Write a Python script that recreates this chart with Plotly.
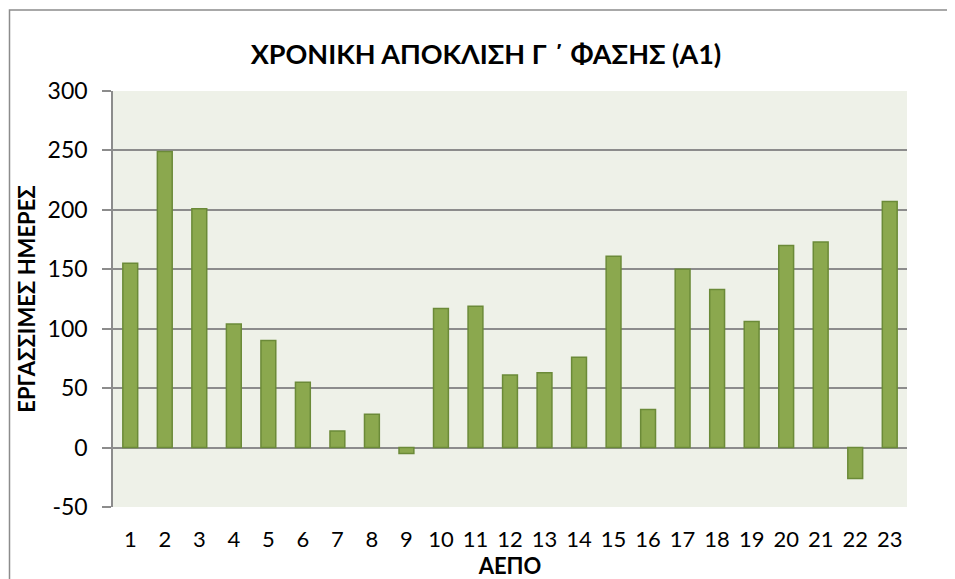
import plotly.graph_objects as go

categories = [str(i) for i in range(1, 24)]
values = [155, 249, 201, 104, 90, 55, 14, 28, -5, 117, 119, 61, 63, 76, 161, 32, 150, 133, 106, 170, 173, -26, 207]
y_ticks = [-50, 0, 50, 100, 150, 200, 250, 300]
y_tick_labels = ["-50", "0", "50", "100", "150", "200", "250", "300"]

title_text = "ΧΡΟΝΙΚΗ ΑΠΟΚΛΙΣΗ Γ ΄ ΦΑΣΗΣ (Α1)"
x_title = "ΑΕΠΟ"
y_title = "ΕΡΓΑΣΣΙΜΕΣ ΗΜΕΡΕΣ"

FONT = "Lato"
W, H = 947, 571

fig = go.Figure(go.Bar(
    x=categories, y=values,
    marker=dict(color="#8BA84E", line=dict(color="#6B8A38", width=1.5)),
))

fig.update_layout(
    width=W, height=H,
    margin=dict(l=105, r=48, t=83, b=72),
    paper_bgcolor="white",
    plot_bgcolor="#EEF1E8",
    bargap=0.57,
    showlegend=False,
    font=dict(family=FONT, color="black", size=22),
    title=dict(text="<b>" + title_text + "</b>", x=(486 - 113) / 794, xanchor="center",
               xref="paper",
               y=1 - 47 / H, yanchor="middle",
               font=dict(family=FONT, size=27, color="black")),
    xaxis=dict(
        type="category", showgrid=False, ticks="", showline=False, automargin=False,
        tickfont=dict(size=22), ticklabelstandoff=17,
        title=dict(text="<b>" + x_title + "</b>", font=dict(size=22), standoff=10),
    ),
    yaxis=dict(
        range=[-50, 300], tickvals=y_ticks, ticktext=y_tick_labels, showgrid=True,
        automargin=False,
        gridcolor="#8C8C8C", gridwidth=1.5,
        zeroline=True, zerolinecolor="#8C8C8C", zerolinewidth=1.5,
        showline=True, linecolor="#8C8C8C", linewidth=1.5,
        ticks="outside", ticklen=9, tickcolor="#8C8C8C", tickwidth=1.5,
        tickfont=dict(size=23), ticklabelstandoff=10,
        title=dict(text="<b>" + y_title + "</b>", font=dict(size=22), standoff=6),
    ),
    shapes=[dict(type="rect", xref="paper", yref="paper",
                 x0=(8.5 - 112) / 794, x1=1.2, y0=-0.5, y1=(507 - 10) / 416,
                 line=dict(color="#8C8C8C", width=1.5), fillcolor="rgba(0,0,0,0)",
                 layer="below")],
)

fig.write_html("out.html")
